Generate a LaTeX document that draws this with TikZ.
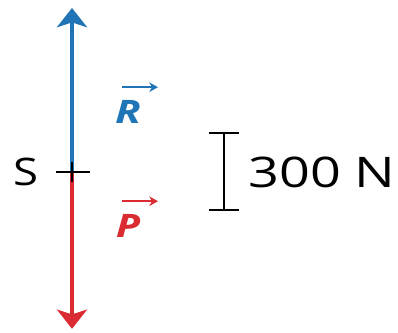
\documentclass[tikz,border=0pt]{standalone}
\usepackage{fontspec}
\setmainfont{Open Sans}
\usetikzlibrary{arrows.meta}
\definecolor{forceblue}{RGB}{31,117,181}
\definecolor{forcered}{RGB}{218,42,50}

\begin{document}
\begin{tikzpicture}[
    force/.style={line width=3.2pt,-{Stealth[length=0.48cm,width=0.75cm,inset=0.12cm]}},
    vlabel/.style={font=\fontsize{23}{23}\selectfont\bfseries\itshape,inner sep=0pt,xscale=1.3},
    vbar/.style={line width=1.7pt,-{Stealth[length=0.22cm,width=0.24cm]}}]
    \useasboundingbox(0,0)rectangle(9.95,8.3);
    \coordinate(S)at(1.8,4);
    \coordinate(Rtip)at(1.8,8.1);
    \coordinate(Ptip)at(1.8,0.08);

        \draw[force,forceblue](S)--(Rtip);
        \draw[force,forcered](S)--(Ptip);
        % point S
        \draw[line width=1.6pt](1.4,4)--(2.25,4);
        \draw[line width=1.6pt](1.8,3.75)--(1.8,4.25);
        \node[font=\fontsize{27}{27}\selectfont,inner sep=0pt,xscale=1.2](Slab)at(0.66,4.01){S};

        \node[vlabel,text=forceblue](R)at(3.2,5.5){R};
        \draw[vbar,forceblue](3.05,6.12)--(3.95,6.12);
        \node[vlabel,text=forcered](P)at(3.2,2.65){P};
        \draw[vbar,forcered](3.05,3.27)--(3.95,3.27);

        % scale
        \coordinate(Stop)at(5.6,4.98);
        \coordinate(Sbot)at(5.6,3.05);
        \draw[line width=1.2pt](Stop)--(Sbot);
        \draw[line width=1.2pt]([xshift=-0.38cm]Stop)--([xshift=0.38cm]Stop);
        \draw[line width=1.2pt]([xshift=-0.38cm]Sbot)--([xshift=0.38cm]Sbot);
        \node[anchor=west,inner sep=0pt,font=\fontsize{30}{30}\selectfont,xscale=1.28](N)at(6.2,3.99){300 N};
\end{tikzpicture}
\end{document}
